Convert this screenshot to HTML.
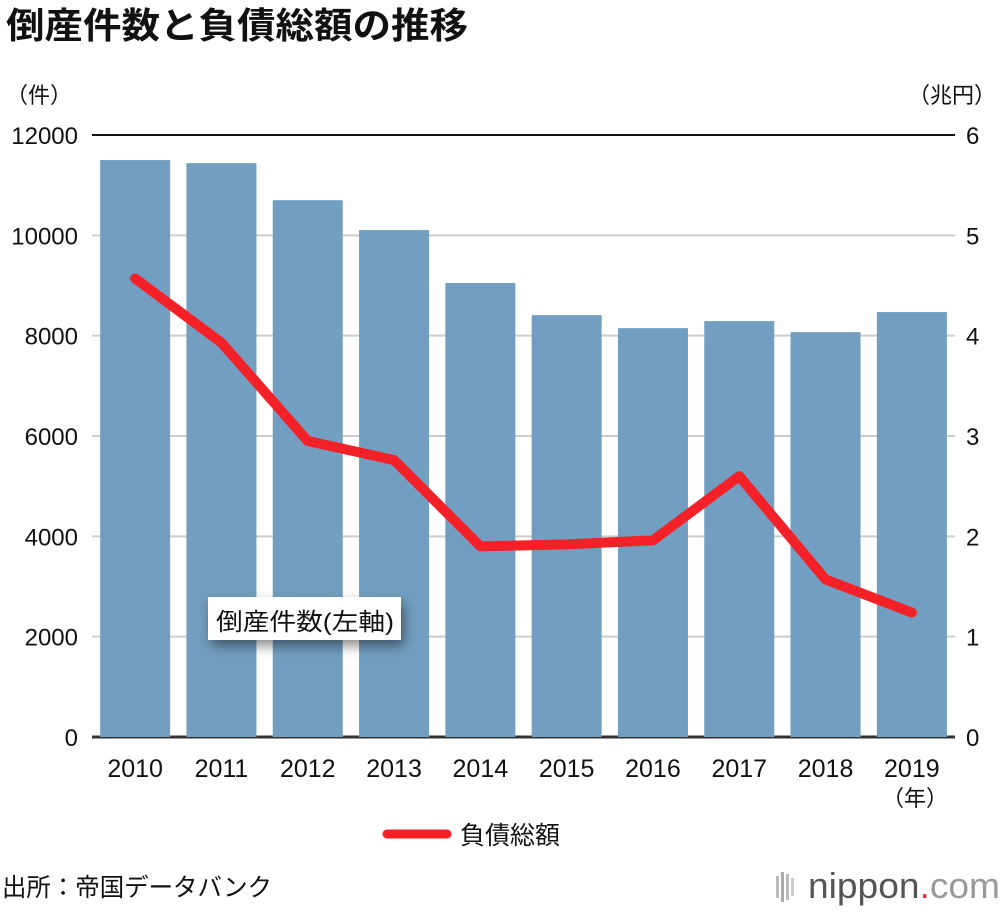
<!DOCTYPE html>
<html><head><meta charset="utf-8"><style>
body{margin:0;background:#fff;font-family:"Liberation Sans","Noto Sans CJK JP",sans-serif}
svg text{font-family:"Liberation Sans","Noto Sans CJK JP",sans-serif}
</style></head><body>
<svg id="c" width="1000" height="910" xmlns="http://www.w3.org/2000/svg">
<text x="6" y="38" font-size="36" font-weight="bold" fill="#111" textLength="462" lengthAdjust="spacingAndGlyphs">倒産件数と負債総額の推移</text>
<text x="6" y="103" font-size="22" fill="#111">（件）</text>
<text x="996" y="103" font-size="22" fill="#111" text-anchor="end">（兆円）</text>
<g id="grid"></g><g id="bars"></g><g id="line"></g><g id="ticks"></g>
<g>
<rect x="208" y="597" width="193" height="43" fill="#fff" style="filter:drop-shadow(3px 6px 6px rgba(0,0,0,0.45))"/>
<text x="216" y="630" font-size="24" fill="#111" textLength="178" lengthAdjust="spacingAndGlyphs">倒産件数(左軸)</text></g>
<text x="948" y="806" font-size="22" fill="#111" text-anchor="end">（年）</text>
<g>
<line x1="387" y1="834" x2="447" y2="834" stroke="#f52128" stroke-width="9" stroke-linecap="round"/>
<text x="460" y="844" font-size="25" fill="#111" textLength="100" lengthAdjust="spacingAndGlyphs">負債総額</text></g>
<text x="2" y="896" font-size="25" fill="#111" textLength="270" lengthAdjust="spacingAndGlyphs">出所：帝国データバンク</text>
<g>
<rect x="776" y="876" width="3" height="22" fill="#bbb"/><rect x="781" y="872" width="3" height="30" fill="#aaa"/><rect x="786" y="874" width="3" height="26" fill="#bbb"/><rect x="791" y="878" width="3" height="18" fill="#ccc"/>
<text x="808" y="898" font-size="36" fill="#555" textLength="192" lengthAdjust="spacingAndGlyphs">nippon<tspan fill="#e33">.</tspan><tspan fill="#999">com</tspan></text></g>
</svg>
<script>
const years=["2010","2011","2012","2013","2014","2015","2016","2017","2018","2019"];
const counts=[11500,11440,10700,10105,9050,8410,8150,8290,8070,8470];
const debt=[4.57,3.93,2.95,2.76,1.90,1.92,1.96,2.60,1.57,1.24];
const leftTicks=[0,2000,4000,6000,8000,10000,12000];
const rightTicks=[0,1,2,3,4,5,6];
const NS="http://www.w3.org/2000/svg";
const X0=92,X1=955,Y0=737,Y1=135;
const yL=v=>Y0-(v/12000)*(Y0-Y1);
const yR=v=>Y0-(v/6)*(Y0-Y1);
const step=(X1-X0)/years.length;
const xC=i=>X0+step*(i+0.5);
function mk(t,a,p){const e=document.createElementNS(NS,t);for(const k in a)e.setAttribute(k,a[k]);p.appendChild(e);return e;}
const g=document.getElementById('grid'),b=document.getElementById('bars'),l=document.getElementById('line'),tk=document.getElementById('ticks');
leftTicks.forEach((v,i)=>{
 const ln=mk('line',{x1:X0,x2:X1,y1:yL(v),y2:yL(v),stroke:i==leftTicks.length-1?'#111':'#ccc','stroke-width':2},g);
 
 
 const t=mk('text',{x:78,y:yL(v)+9,'font-size':24,fill:'#111','text-anchor':'end'},tk);t.textContent=v;
 
 
});
rightTicks.forEach(v=>{
 const t=mk('text',{x:966,y:yR(v)+9,'font-size':24,fill:'#111'},tk);t.textContent=v;
 
 
});
counts.forEach((v,i)=>{
 const r=mk('rect',{x:xC(i)-35,y:yL(v),width:70,height:Y0-yL(v),fill:'#729fc1'},b);
 
 
 const t=mk('text',{x:xC(i),y:777,'font-size':25,fill:'#111','text-anchor':'middle'},tk);t.textContent=years[i];
 
 
});
const ax=mk('line',{x1:X0,x2:X1,y1:Y0,y2:Y0,stroke:'#333','stroke-width':3},g);


const pl=mk('polyline',{points:debt.map((v,i)=>xC(i)+','+yR(v)).join(' '),fill:'none',stroke:'#f52128','stroke-width':10,'stroke-linejoin':'round','stroke-linecap':'round'},l);


</script>
</body></html>
